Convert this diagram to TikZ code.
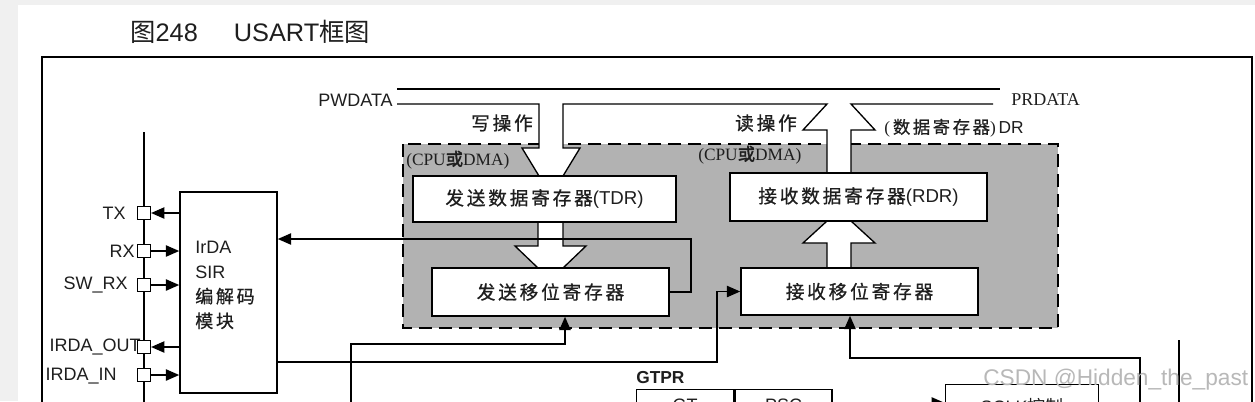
\documentclass[tikz,border=0pt]{standalone}
\usepackage{fontspec}
\setmainfont{Liberation Sans}
\newfontfamily\cjk[LetterSpace=15, FakeBold=0.8]{Noto Sans CJK SC}
\newfontfamily\cjkplain{Noto Sans CJK SC}
\newfontfamily\cjkbold[FakeBold=2]{Noto Sans CJK SC}
\newfontfamily\tmsfont{Liberation Serif}
\usepackage{tikz}
\usetikzlibrary{arrows.meta}
\definecolor{pagegray}{HTML}{F0F0F0}
\definecolor{regiongray}{HTML}{B2B2B2}
\definecolor{ink}{HTML}{1E1E1E}
\newdimen\px \px=0.75pt

\begin{document}
\begin{tikzpicture}[
    x=1\px, y=-1\px,
    every node/.style={text=ink, inner sep=0pt, font=\fontsize{13.5}{16}\selectfont},
    regbox/.style={draw, line width=1.2pt, fill=white},
    pinbox/.style={draw, fill=white, line width=0.9pt, minimum size=13\px},
    wire/.style={draw, line width=1pt},
    arr/.style={wire, -{Triangle[length=10pt, width=8.5pt]}},
    zh/.style={font=\cjk\fontsize{14}{16}\selectfont},
    region/.style={line width=1.2pt, dash pattern=on 13\px off 7\px}
]
\clip (0,0) rectangle (1255,401);
\fill[pagegray] (0,0) rectangle (1255,401);
\fill[white] (18,5) rectangle (1255,401);

\node[anchor=west, font=\fontsize{19}{22}\selectfont] (title) at (130,32)
    {{\cjkplain 图}248\hspace{27pt}USART{\cjkplain 框图}};
\draw[line width=1.2pt] (42,430) -- (42,57) -- (1252,57) -- (1252,430);

\fill[regiongray] (403,144) rectangle (1058,328);
\draw[region] (403,144) rectangle (1058,328);

\fill[white] (539,138) -- (539,148) -- (522,148) -- (539,176) -- (563,176)
    -- (580,148) -- (563,148) -- (563,138) -- cycle;
\fill[white] (827,138) rectangle (851,175);
\draw[wire] (397,89) -- (1000,89);
\draw[wire] (397,104) -- (539,104) -- (539,148) -- (522,148) -- (539,176);
\draw[wire] (563,176) -- (580,148) -- (563,148) -- (563,104) -- (827,104)
    -- (803,130) -- (827,130) -- (827,175);
\draw[wire] (851,175) -- (851,130) -- (875,130) -- (851,104) -- (993,104);

\draw[wire, fill=white] (538,222) -- (538,246) -- (515,246) -- (538,268) -- (563,268)
    -- (586,246) -- (563,246) -- (563,222) -- cycle;
\draw[wire, fill=white] (827,268) -- (827,243) -- (803,243) -- (827,221) -- (851,221)
    -- (875,243) -- (851,243) -- (851,268) -- cycle;

\node[anchor=east] (pwdata) at (393,100) {PWDATA};
\node[anchor=west, font=\tmsfont\fontsize{13.5}{16}\selectfont] (prdata) at (1011,100) {PRDATA};
\node[zh] (wrop) at (502,123) {写操作};
\node[zh] (rdop) at (766,123) {读操作};
\node[anchor=west, font=\tmsfont\fontsize{13}{15}\selectfont] (cpuA) at (406,160) {(CPU{\cjkbold 或}DMA)};
\node[anchor=west, font=\tmsfont\fontsize{13}{15}\selectfont] (cpuB) at (698,155) {(CPU{\cjkbold 或}DMA)};
\node[anchor=west, font=\fontsize{13}{15}\selectfont] (drlbl) at (884,128)
    {{\tmsfont(\,}{\cjk 数据寄存器}{\tmsfont)\,}DR};

\node[regbox, zh, minimum width=263\px, minimum height=46\px] (tdr) at (544.5,199) {发送数据寄存器{\rmfamily(TDR)}};
\node[regbox, zh, minimum width=237\px, minimum height=48\px] (tsr) at (550.5,292) {发送移位寄存器};
\node[regbox, zh, minimum width=257\px, minimum height=48\px] (rdr) at (858.5,197) {接收数据寄存器{\rmfamily(RDR)}};
\node[regbox, zh, minimum width=237\px, minimum height=47\px] (rsr) at (859.5,291.5) {接收移位寄存器};

\node[regbox, minimum width=97\px, minimum height=201\px] (irda) at (228.5,292.5) {};
\node[anchor=north west, align=left, font=\fontsize{13.5}{18.5}\selectfont] (irdatxt) at (195,241)
    {IrDA\\SIR\\{\cjk 编解码}\\{\cjk 模块}};

\draw[line width=2.2pt] (144,132) -- (144,420);
\foreach \name/\ypos in {TX/213, RX/251, SWRX/285, IRDAOUT/347, IRDAIN/375}
    \node[pinbox] (pin\name) at (144,\ypos) {};
\node[anchor=east] (lblTX) at (126,213) {TX};
\node[anchor=east] (lblRX) at (135,251) {RX};
\node[anchor=east] (lblSWRX) at (128,285) {SW\_RX};
\node[anchor=east] (lblIRDAOUT) at (141,347) {IRDA\_OUT};
\node[anchor=east] (lblIRDAIN) at (117,376) {IRDA\_IN};

\draw[arr] (irda.west |- pinTX) -- (pinTX.east);
\draw[arr] (pinRX.east) -- (irda.west |- pinRX);
\draw[arr] (pinSWRX.east) -- (irda.west |- pinSWRX);
\draw[arr] (irda.west |- pinIRDAOUT) -- (pinIRDAOUT.east);
\draw[arr] (pinIRDAIN.east) -- (irda.west |- pinIRDAIN);

\coordinate (txret) at (691,239);
\draw[arr] (tsr.east) -| (txret) -- (irda.east |- txret);
\coordinate (rxfeed) at (717,362);
\draw[arr] (irda.east |- rxfeed) -- (rxfeed) |- (rsr.west);
\coordinate (clkA) at (351,420);
\coordinate (tsrin) at (565,344);
\draw[arr] (clkA) |- (tsrin) -- (tsrin |- tsr.south);
\coordinate (clkB) at (1140,420);
\coordinate (rsrin) at (850,358);
\draw[arr] (clkB) |- (rsrin) -- (rsrin |- rsr.south);
\coordinate (ctlA) at (1179,340);
\coordinate (ctlB) at (1179,420);
\draw[wire] (ctlA) -- (ctlB);

\node[anchor=west, font=\bfseries\fontsize{13}{15}\selectfont] (gtprlbl) at (636,378) {GTPR};
\node[regbox, line width=1pt, anchor=north west, minimum width=97\px, minimum height=32\px] (gt) at (636,389) {GT};
\node[regbox, line width=1pt, anchor=north west, minimum width=97\px, minimum height=32\px] (psc) at (gt.north east) {PSC};
\node[regbox, line width=1pt, anchor=north west, minimum width=153\px, minimum height=44\px] (sclk) at (945,384) {SCLK{\cjkplain 控制}};
\coordinate (sclkfeed) at (880,403);
\draw[arr] (sclkfeed) -- (sclk.west |- sclkfeed);

\node[anchor=west, text=black!28, font=\fontsize{17}{20}\selectfont] (mark) at (983,380) {CSDN @Hidden\_the\_past};
\end{tikzpicture}
\end{document}
